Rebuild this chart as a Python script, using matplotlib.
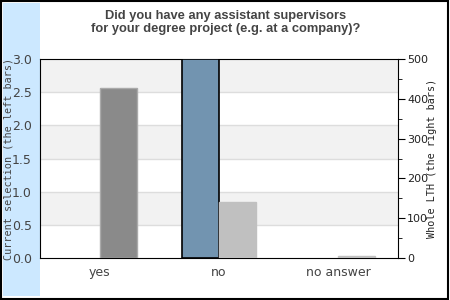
import matplotlib
matplotlib.use("Agg")
import matplotlib.pyplot as plt
from matplotlib.patches import Rectangle
import numpy as np

categories = ["yes", "no", "no answer"]
current_selection = [0, 3, 0]
whole_lth = [427, 141, 4]
left_ticks = [0.0, 0.5, 1.0, 1.5, 2.0, 2.5, 3.0]
right_ticks = [0, 100, 200, 300, 400, 500]
right_colors = ["#8a8a8a", "#c0c0c0", "#c0c0c0"]

fig = plt.figure(figsize=(4.5, 3), dpi=100)
fig.patch.set_facecolor("white")
fig.patches.append(Rectangle((3/450, 4/300), 37/450, 293/300, transform=fig.transFigure,
                             facecolor="#cce8ff", edgecolor="none", zorder=-5))
fig.patches.append(Rectangle((0.002, 0.005), 0.994, 0.992, transform=fig.transFigure,
                             fill=False, edgecolor="black", linewidth=1.5, zorder=-4))

ax = fig.add_axes([40/450, 42/300, 358/450, 199/300])
ax.set_facecolor("white")
ax.set_xlim(-0.5, 2.5)
ax.set_ylim(0, 3)
for i in range(6):
    if i % 2 == 1:
        ax.axhspan(left_ticks[i], left_ticks[i + 1], color="#f2f2f2", zorder=0, lw=0)
for t in left_ticks[1:-1]:
    ax.axhline(t, color="#dddddd", lw=1, zorder=0.5)

x = np.arange(len(categories))
w = 0.31
ax.bar(x - w / 2, current_selection, width=w, color="#7294b0",
       edgecolor="black", linewidth=[1.2 if v > 0 else 0 for v in current_selection],
       zorder=3)

ax2 = ax.twinx()
ax2.patch.set_visible(False)
ax2.set_ylim(0, 500)
ax2.bar(x + w / 2, whole_lth, width=w, color=right_colors,
        edgecolor=["#aaaaaa", "#c0c0c0", "#c0c0c0"], linewidth=1, zorder=2)

ax.set_yticks(left_ticks)
ax.set_yticklabels([f"{t:.1f}" for t in left_ticks], color="#444444", fontsize=9)
ax.tick_params(axis="y", length=0, pad=6)
ax.set_xticks(x)
ax.set_xticklabels(categories, color="#444444", fontsize=9)
ax.tick_params(axis="x", length=0, pad=6)
ax.set_ylabel("Current selection (the left bars)", family="DejaVu Sans Mono",
              fontsize=7.3, color="#444444")
ax.yaxis.set_label_coords(-0.075, 0.5)

ax2.set_yticks(right_ticks)
ax2.set_yticks([50, 150, 250, 350, 450], minor=True)
ax2.set_yticklabels([str(t) for t in right_ticks], color="#222222", fontsize=8)
ax2.tick_params(axis="y", which="major", length=5, pad=1.5)
ax2.tick_params(axis="y", which="minor", length=3)
ax2.set_ylabel("Whole LTH (the right bars)", family="DejaVu Sans Mono",
               fontsize=7.3, color="#222222")
ax2.yaxis.set_label_coords(1.082, 0.5)
for sp in ax.spines.values():
    sp.set_color("black")
for sp in ax2.spines.values():
    sp.set_visible(False)

fig.text(0.502, 0.925, "Did you have any assistant supervisors\nfor your degree project (e.g. at a company)?",
         ha="center", va="center", fontsize=9.3, fontweight="bold", color="#444444",
         family="Liberation Sans", linespacing=1.15)

fig.savefig("out.png", dpi=100)
